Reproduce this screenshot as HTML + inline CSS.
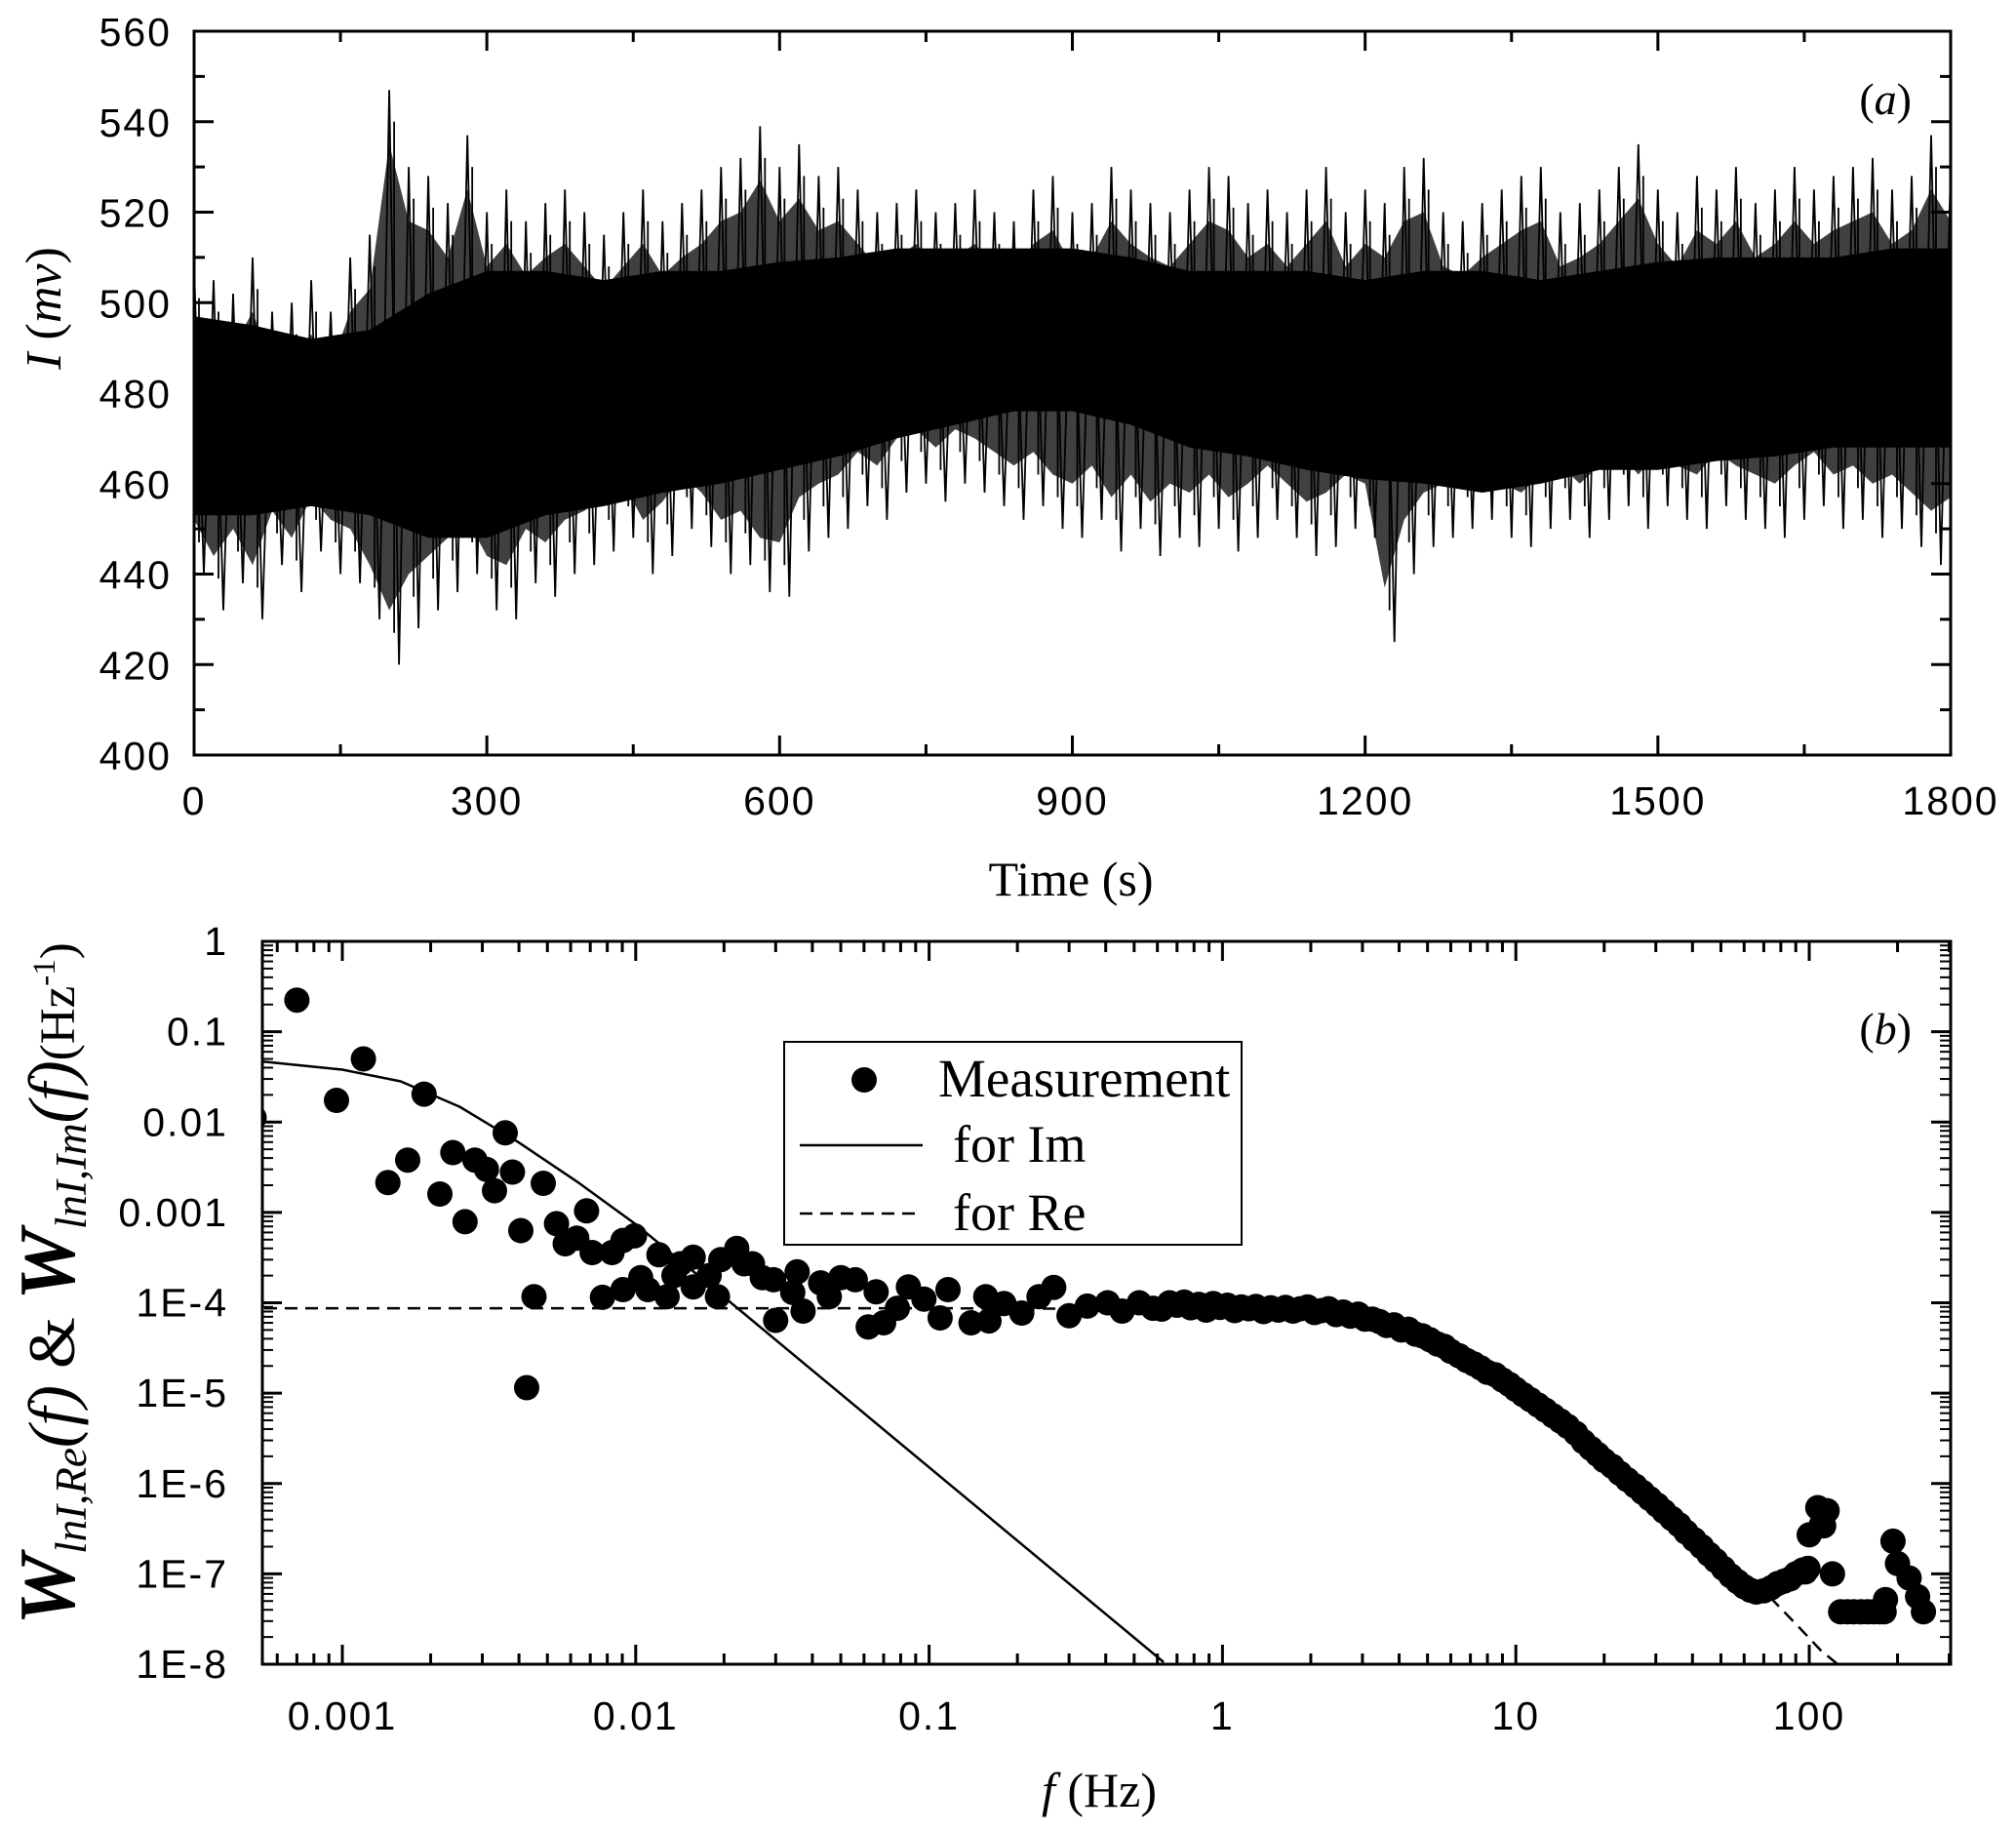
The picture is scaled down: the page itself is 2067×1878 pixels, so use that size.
<!DOCTYPE html>
<html><head><meta charset="utf-8"><style>
html,body{margin:0;padding:0;background:#fff;}
svg{display:block;}
.tk{font-family:"Liberation Sans",Arial,sans-serif;font-size:41px;letter-spacing:2px;fill:#000;}
.sf{font-family:"Liberation Serif","Times New Roman",serif;fill:#000;}
</style></head><body>
<svg id="fig" width="2067" height="1878" viewBox="0 0 2067 1878" xmlns="http://www.w3.org/2000/svg">
<defs>
<clipPath id="clipA"><rect x="199" y="32" width="1801" height="742"/></clipPath>
<clipPath id="clipB"><rect x="269" y="965" width="1731" height="741"/></clipPath>
</defs>
<g id="panelA"></g>
<g id="panelB"></g>
</svg>
<script>
// ---------- Panel (a) data ----------
const coreTimes = [0,60,120,180,240,300,360,420,480,540,600,660,720,780,840,900,960,1020,1080,1140,1200,1260,1320,1380,1440,1500,1560,1620,1680,1740,1800];
const coreHi = [495,493,490,492,500,505,505,503,505,505,507,508,510,510,510,510,508,505,505,505,503,505,505,503,505,507,508,508,508,510,510];
const coreLo = [455,455,457,455,450,450,455,457,460,462,465,468,472,475,478,478,475,470,468,465,463,462,460,462,465,465,467,468,470,470,470];
const spikeStep = 20;
const spikeHi = [508,505,502,510,498,500,505,498,510,515,547,530,528,522,537,520,525,518,522,525,520,515,520,525,518,522,525,530,532,539,530,535,528,530,525,520,522,525,520,522,525,520,518,525,528,520,522,530,525,522,520,525,530,528,522,525,520,525,530,520,525,522,530,532,520,518,522,525,528,530,520,522,525,530,535,525,520,528,525,530,522,525,530,525,528,530,532,525,528,537,530];
const spikeLo = [440,432,438,430,442,436,445,440,438,430,420,428,432,436,440,432,430,438,435,440,442,445,448,440,444,450,446,440,442,436,435,445,448,450,455,452,458,460,456,460,458,455,452,455,450,448,452,445,450,444,448,446,450,445,448,452,448,444,446,450,448,425,440,446,448,450,452,448,446,450,452,448,452,455,450,455,452,450,455,452,450,448,452,455,450,452,448,450,446,442,445];
const xTicksA = [0,300,600,900,1200,1500,1800];
const yTicksA = [400,420,440,460,480,500,520,540,560];

// ---------- Panel (b) data ----------
const measF = [0.0005,0.0007,0.000955,0.00118,0.00143,0.00167,0.0019,0.00215,0.00238,0.00262,0.00283,0.0031,0.0033,0.00359,0.0038,0.00406,0.00425,0.0045,0.00484,0.00537,0.00575,0.0063,0.0068,0.0071,0.0077,0.0083,0.00905,0.00905,0.0099,0.0104,0.011,0.012,0.0128,0.0135,0.0142,0.0157,0.0157,0.0178,0.019,0.0195,0.0221,0.0234,0.025,0.027,0.0295,0.030,0.0343,0.0355,0.0372,0.0427,0.0457,0.05,0.056,0.062,0.066,0.070,0.078,0.085,0.096,0.109,0.116,0.139,0.156,0.16,0.18,0.207,0.237,0.266,0.30,0.346,0.406,0.455,0.52,0.58,
0.62,0.66,0.7,0.74,0.78,0.83,0.88,0.93,0.98,1.04,1.1,1.16,1.23,1.3,1.38,1.46,1.55,1.64,1.74,1.84,1.95,2.06,2.18,2.3,2.44,2.58,2.73,2.9,3.06,3.24,3.43,3.63,3.84,4.07,4.3,4.55,4.8,5.1,5.4,5.7,6.0,6.4,6.8,7.2,7.6,8.0,8.5,9.0,9.5,10,10.6,11.2,11.9,12.6,13.4,14.2,15,16,17,18,19,20,21.3,22.6,24,25.5,27,28.6,30.3,32,34,36,38,40.5,43,45.5,48,51,54,57,60,63,66,70,74,78,82,86,90,95,97,99,
100,107,110,112,115,120,128,135,142,150,158,166,174,180,182,193,200,219,234,245];
const measW = [0.0112,0.224,0.0174,0.050,0.00214,0.0038,0.0204,0.0016,0.0046,7.9e-4,0.0038,0.0030,0.00174,0.0076,0.0028,6.3e-4,1.15e-5,1.17e-4,0.0021,7.5e-4,4.5e-4,5.2e-4,1.04e-3,3.6e-4,1.15e-4,3.6e-4,4.9e-4,1.4e-4,5.5e-4,1.9e-4,1.4e-4,3.4e-4,1.17e-4,2.0e-4,2.7e-4,3.2e-4,1.5e-4,2.0e-4,1.17e-4,3.0e-4,4.0e-4,2.7e-4,2.7e-4,1.9e-4,1.8e-4,6.4e-5,1.3e-4,2.2e-4,8.1e-5,1.66e-4,1.17e-4,1.9e-4,1.8e-4,5.4e-5,1.32e-4,6.0e-5,8.7e-5,1.5e-4,1.1e-4,6.8e-5,1.4e-4,6.0e-5,1.17e-4,6.3e-5,9.8e-5,7.7e-5,1.17e-4,1.48e-4,7.2e-5,9.2e-5,1.0e-4,8.1e-5,1.0e-4,8.7e-5,
8.5e-5,1.0e-4,9.4e-5,1.02e-4,8.8e-5,9.6e-5,8.3e-5,9.8e-5,8.9e-5,9.4e-5,8.2e-5,9.0e-5,8.6e-5,9.1e-5,8.0e-5,8.8e-5,8.3e-5,8.9e-5,8.1e-5,8.6e-5,9.0e-5,7.8e-5,8.2e-5,8.6e-5,7.4e-5,7.9e-5,7.1e-5,7.5e-5,6.6e-5,6.6e-5,6.2e-5,5.6e-5,5.7e-5,5.0e-5,5.1e-5,4.5e-5,4.3e-5,3.9e-5,3.5e-5,3.3e-5,2.9e-5,2.6e-5,2.3e-5,2.1e-5,1.9e-5,1.7e-5,1.6e-5,1.4e-5,1.25e-5,1.1e-5,9.6e-6,8.5e-6,7.4e-6,6.5e-6,5.6e-6,4.9e-6,4.3e-6,3.6e-6,2.9e-6,2.45e-6,2.1e-6,1.8e-6,1.55e-6,1.3e-6,1.1e-6,9.4e-7,8.0e-7,6.8e-7,5.8e-7,4.9e-7,4.1e-7,3.5e-7,2.9e-7,2.4e-7,2.0e-7,1.65e-7,1.4e-7,1.15e-7,9.5e-8,8.2e-8,7.2e-8,6.6e-8,6.3e-8,6.5e-8,7.0e-8,7.8e-8,8.3e-8,8.8e-8,1.0e-7,1.1e-7,1.05e-7,1.15e-7,
2.7e-7,5.4e-7,3.5e-7,3.4e-7,5.0e-7,1.0e-7,3.8e-8,3.8e-8,3.8e-8,3.8e-8,3.8e-8,3.8e-8,3.8e-8,3.8e-8,5.2e-8,2.3e-7,1.3e-7,9e-8,5.6e-8,3.8e-8];
const imF = [0.000537,0.001,0.00158,0.00251,0.00398,0.00631,0.01,0.0158,0.631];
const imW = [0.0468,0.038,0.0282,0.0148,0.0060,0.00219,7.4e-4,2.19e-4,1.05e-8];
const reF = [0.000542,0.1,1,3,5,10,20,40,70,90,110,125];
const reW = [8.7e-5,8.7e-5,8.5e-5,6.6e-5,4.2e-5,1.1e-5,1.9e-6,2.4e-7,6.5e-8,2.8e-8,1.4e-8,1.0e-8];
const xTicksB = [0.001,0.01,0.1,1,10,100];
const xTickLabelsB = ["0.001","0.01","0.1","1","10","100"];
const yTicksB = [1,0.1,0.01,0.001,1e-4,1e-5,1e-6,1e-7,1e-8];
const yTickLabelsB = ["1","0.1","0.01","0.001","1E-4","1E-5","1E-6","1E-7","1E-8"];

const NS = "http://www.w3.org/2000/svg";
function mk(tag, attrs, parent){const e=document.createElementNS(NS,tag);for(const k in attrs)e.setAttribute(k,attrs[k]);parent.appendChild(e);return e;}

// ---------- Panel (a) ----------
const A = document.getElementById('panelA');
const aL=199,aR=2000,aT=32,aB=774;
const xa = t => aL + t/1800*(aR-aL);
const ya = v => aB - (v-400)/160*(aB-aT);
const gA = mk('g',{'clip-path':'url(#clipA)'},A);
const nS = Math.min(spikeHi.length,spikeLo.length);
let env=[];
for(let i=0;i<nS;i++)env.push(xa(i*spikeStep).toFixed(1)+','+ya(spikeHi[i]-12).toFixed(1));
for(let i=nS-1;i>=0;i--)env.push(xa(i*spikeStep).toFixed(1)+','+ya(spikeLo[i]+12).toFixed(1));
const envP = mk('polygon',{points:env.join(' '),fill:'#000','fill-opacity':0.75},gA);


let d='';
for(let i=0;i<nS;i++){
  const t=i*spikeStep;
  d+=(i?'L':'M')+xa(t).toFixed(1)+','+ya(spikeHi[i]).toFixed(1)+'L'+xa(t+spikeStep/2).toFixed(1)+','+ya(spikeLo[i]).toFixed(1);
}
const spikes = mk('path',{d:d,fill:'none',stroke:'#000','stroke-width':1.8},gA);


for(let i=0;i<nS;i++){
  const t=i*spikeStep+spikeStep/4;
  const ln=mk('line',{x1:xa(t),x2:xa(t),y1:ya(spikeHi[i]-7),y2:ya(spikeLo[i]+7),stroke:'#000','stroke-width':1.8},gA);
  
  
}
let pts=[];
coreTimes.forEach((t,i)=>pts.push(xa(t).toFixed(1)+','+ya(coreHi[i]+2).toFixed(1)));
for(let i=coreTimes.length-1;i>=0;i--)pts.push(xa(coreTimes[i]).toFixed(1)+','+ya(coreLo[i]-2).toFixed(1));
const core = mk('polygon',{points:pts.join(' '),fill:'#000'},gA);



const frameA = mk('rect',{x:aL,y:aT,width:aR-aL,height:aB-aT,fill:'none',stroke:'#000','stroke-width':3},A);


for(let t=0;t<=1800;t+=150){
  const major = t%300===0; const L = major?20:11;
  mk('line',{x1:xa(t),x2:xa(t),y1:aB,y2:aB-L,stroke:'#000','stroke-width':3},A);
  mk('line',{x1:xa(t),x2:xa(t),y1:aT,y2:aT+L,stroke:'#000','stroke-width':3},A);
}
for(let v=400;v<=560;v+=10){
  const major = v%20===0; const L = major?20:11;
  mk('line',{x1:aL,x2:aL+L,y1:ya(v),y2:ya(v),stroke:'#000','stroke-width':3},A);
  mk('line',{x1:aR,x2:aR-L,y1:ya(v),y2:ya(v),stroke:'#000','stroke-width':3},A);
}
xTicksA.forEach(t=>{
  const tx=mk('text',{x:xa(t),y:835,'text-anchor':'middle',class:'tk'},A);tx.textContent=t;
  
  
});
yTicksA.forEach(v=>{
  const tx=mk('text',{x:176,y:ya(v)+15,'text-anchor':'end',class:'tk'},A);tx.textContent=v;
  
  
});

// ---------- Panel (b) ----------
const B = document.getElementById('panelB');
const bL=269,bR=2000,bT=965,bB=1706;
const xb = f => 351 + (Math.log10(f)+3)*300.8;
const yb = w => bT - Math.log10(w)*(bB-bT)/8;
const gB = mk('g',{'clip-path':'url(#clipB)'},B);
const toPath=(F,W)=>F.map((f,i)=>(i?'L':'M')+xb(f).toFixed(1)+','+yb(W[i]).toFixed(1)).join('');
const reLine = mk('path',{d:toPath(reF,reW),fill:'none',stroke:'#000','stroke-width':2.5,'stroke-dasharray':'13 8'},gB);


const imLine = mk('path',{d:toPath(imF,imW),fill:'none',stroke:'#000','stroke-width':2.5,'stroke-linejoin':'round'},gB);


measF.forEach((f,i)=>{
  const c=mk('circle',{cx:xb(f).toFixed(1),cy:yb(measW[i]).toFixed(1),r:13,fill:'#000'},gB);
  
  
});
const frameB = mk('rect',{x:bL,y:bT,width:bR-bL,height:bB-bT,fill:'none',stroke:'#000','stroke-width':3},B);


for(let e=-4;e<=2;e++){
  for(let m=1;m<=9;m++){
    const f=m*Math.pow(10,e); const X=xb(f);
    if(X<bL||X>bR)continue;
    const L=m===1?20:11;
    mk('line',{x1:X,x2:X,y1:bB,y2:bB-L,stroke:'#000','stroke-width':3},B);
    mk('line',{x1:X,x2:X,y1:bT,y2:bT+L,stroke:'#000','stroke-width':3},B);
  }
}
for(let e=-8;e<=0;e++){
  for(let m=1;m<=9;m++){
    const w=m*Math.pow(10,e); const Y=yb(w);
    if(Y<bT-1||Y>bB+1)continue;
    const L=m===1?20:11;
    mk('line',{x1:bL,x2:bL+L,y1:Y,y2:Y,stroke:'#000','stroke-width':m===1?3:2},B);
    mk('line',{x1:bR,x2:bR-L,y1:Y,y2:Y,stroke:'#000','stroke-width':m===1?3:2},B);
  }
}
xTicksB.forEach((f,i)=>{
  const tx=mk('text',{x:xb(f),y:1773,'text-anchor':'middle',class:'tk'},B);tx.textContent=xTickLabelsB[i];
  
  
});
yTicksB.forEach((w,i)=>{
  const tx=mk('text',{x:234,y:yb(w)+14,'text-anchor':'end',class:'tk'},B);tx.textContent=yTickLabelsB[i];
  
  
});
</script>
<svg style="position:absolute;left:0;top:0" width="2067" height="1878" xmlns="http://www.w3.org/2000/svg">
<text class="sf" x="1098" y="918" text-anchor="middle" font-size="50">Time (s)</text>
<text class="sf" transform="translate(62,316) rotate(-90)" text-anchor="middle" font-size="52"><tspan font-style="italic">I</tspan> (<tspan font-style="italic">mv</tspan>)</text>
<text class="sf" x="1960" y="117" text-anchor="end" font-size="46">(<tspan font-style="italic">a</tspan>)</text>
<text class="sf" x="1960" y="1070" text-anchor="end" font-size="46">(<tspan font-style="italic">b</tspan>)</text>
<text class="sf" x="1127" y="1852" text-anchor="middle" font-size="50"><tspan font-style="italic">f</tspan> (Hz)</text>
<text class="sf" transform="translate(76,1316) rotate(-90)" text-anchor="middle" font-size="68"><tspan font-weight="bold" font-style="italic" font-size="82">W</tspan><tspan font-style="italic" font-size="45" dy="12">lnI,Re</tspan><tspan font-style="italic" dy="-12">(f)</tspan> &amp; <tspan font-weight="bold" font-style="italic" font-size="82">W</tspan><tspan font-style="italic" font-size="45" dy="12">lnI,Im</tspan><tspan font-style="italic" dy="-12">(f)</tspan><tspan font-size="51">(Hz</tspan><tspan font-size="33" dy="-20">-1</tspan><tspan font-size="51" dy="20">)</tspan></text>
<g>
<rect x="804" y="1068" width="469" height="208" fill="#fff" stroke="#000" stroke-width="2"/>
<circle cx="886" cy="1107" r="13" fill="#000"/>
<text class="sf" x="962" y="1124" font-size="55">Measurement</text>
<line x1="820" x2="946" y1="1174" y2="1174" stroke="#000" stroke-width="2.5"/>
<text class="sf" x="977" y="1191" font-size="54">for Im</text>
<line x1="820" x2="946" y1="1244" y2="1244" stroke="#000" stroke-width="2.5" stroke-dasharray="13 8"/>
<text class="sf" x="977" y="1261" font-size="54">for Re</text>
</g>
</svg>
</body></html>
